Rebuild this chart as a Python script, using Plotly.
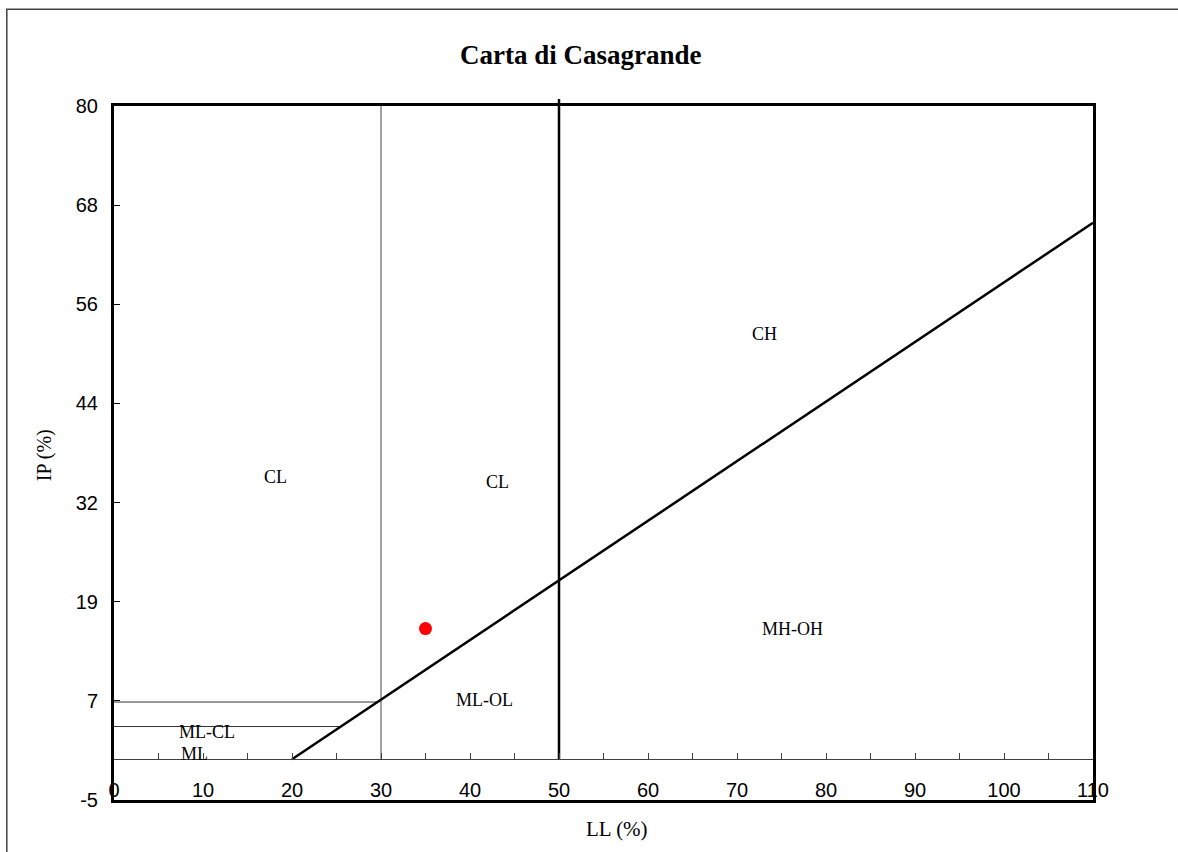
import plotly.graph_objects as go

# axis ticks (Excel style: -5..80 split in 7 equal steps, labels rounded)
y_min, y_max = -5, 80
y_tick_text = ["-5", "7", "19", "32", "44", "56", "68", "80"]
x_ticks = [0, 10, 20, 30, 40, 50, 60, 70, 80, 90, 100, 110]

# A-line  IP = 0.73 (LL - 20)
a_line_ll = [20, 110]
a_line_ip = [0, 65.7]

# boundary lines
ll50_x = [50, 50]
ll50_y = [0, 80]
ll30_x = [30, 30]
ll30_y = [0, 80]
ip7_x = [0, 29.6]
ip7_y = [7, 7]
ip4_x = [0, 25.5]
ip4_y = [4, 4]

# sample
sample_ll = [35]
sample_ip = [16]

# zone labels
zone_names = ["CL", "CL", "CH", "MH-OH", "ML-OL", "ML-CL", "ML"]
zone_ll = [18.2, 43.1, 73.1, 76.2, 41.6, 10.5, 9.0]
zone_ip = [34.5, 33.9, 52.1, 16.0, 7.3, 3.3, 0.6]

serif = "Liberation Serif"
sans = "Liberation Sans"

y_step = (y_max - y_min) / 7
y_tick_vals = [y_min + i * y_step for i in range(len(y_tick_text))]

fig = go.Figure()

thin = dict(color="#333333", width=1)
fig.add_trace(go.Scatter(x=ll30_x, y=ll30_y, mode="lines", line=dict(color="#444444", width=1)))
fig.add_trace(go.Scatter(x=ip7_x, y=ip7_y, mode="lines", line=thin))
fig.add_trace(go.Scatter(x=ip4_x, y=ip4_y, mode="lines", line=thin))
fig.add_trace(go.Scatter(x=ll50_x, y=ll50_y, mode="lines", line=dict(color="black", width=2.5)))
fig.add_trace(go.Scatter(x=a_line_ll, y=a_line_ip, mode="lines", line=dict(color="black", width=2.5),
                         xaxis="x2"))
fig.add_trace(go.Scatter(x=sample_ll, y=sample_ip, mode="markers",
                         marker=dict(color="#ff0000", size=13)))

# zone labels
for name, lx, ly in zip(zone_names, zone_ll, zone_ip):
    fig.add_annotation(x=lx, y=ly, text=name, showarrow=False,
                       font=dict(family=serif, size=18, color="black"))

# axis titles
fig.add_annotation(xref="paper", yref="paper", x=0.514, y=-0.0417, text="LL (%)",
                   xanchor="center", yanchor="middle",
                   showarrow=False, font=dict(family=serif, size=21, color="black"))
fig.add_annotation(xref="paper", yref="paper", x=-0.0713, y=0.497, text="IP (%)", textangle=-90,
                   xanchor="center", yanchor="middle",
                   showarrow=False, font=dict(family=serif, size=20, color="black"))

# LL=50 line pokes above the frame a little
fig.add_shape(type="line", xref="x", yref="paper", x0=ll50_x[0], x1=ll50_x[1], y0=1, y1=1.01,
              line=dict(color="black", width=2.5))

# outer chart-area border
fig.add_shape(type="rect", xref="paper", yref="paper", x0=-0.1095, x1=1.1, y0=-0.09, y1=1.1395,
              line=dict(color="#404040", width=1.5), fillcolor="rgba(0,0,0,0)", layer="below")

fig.update_layout(
    width=1178, height=852,
    margin=dict(l=114, r=85, t=106, b=52, pad=0),
    plot_bgcolor="white", paper_bgcolor="white",
    showlegend=False,
    title=dict(text="<b>Carta di Casagrande</b>", x=0.493, xanchor="center",
               y=1 - 55 / 852, yanchor="middle",
               font=dict(family=serif, size=27, color="black")),
    xaxis=dict(range=[0, 110], tickvals=x_ticks, ticks="", showgrid=False, zeroline=False,
               showline=True, linecolor="black", linewidth=3, mirror=True,
               ticklabelposition="inside", ticklabeloverflow="allow",
               tickfont=dict(family=sans, size=20, color="black")),
    xaxis2=dict(range=[0, 110], overlaying="x", anchor="free", position=(0 - y_min) / (y_max - y_min),
                side="bottom", showline=True, linecolor="#404040", linewidth=1,
                ticks="inside", ticklen=6, tickcolor="#404040", tick0=0, dtick=5,
                showticklabels=False, showgrid=False, zeroline=False),
    yaxis=dict(range=[y_min, y_max], tickvals=y_tick_vals, ticktext=y_tick_text,
               ticks="inside", ticklen=6, tickcolor="black", showgrid=False, zeroline=False,
               showline=True, linecolor="black", linewidth=3, mirror=True,
               ticklabelstandoff=9,
               tickfont=dict(family=sans, size=20, color="black")),
)

# drop the default 8px body margin so the figure sits at the page origin
fig.write_html("out.html", config={"displayModeBar": False},
               post_script="document.body.style.margin='0';")
